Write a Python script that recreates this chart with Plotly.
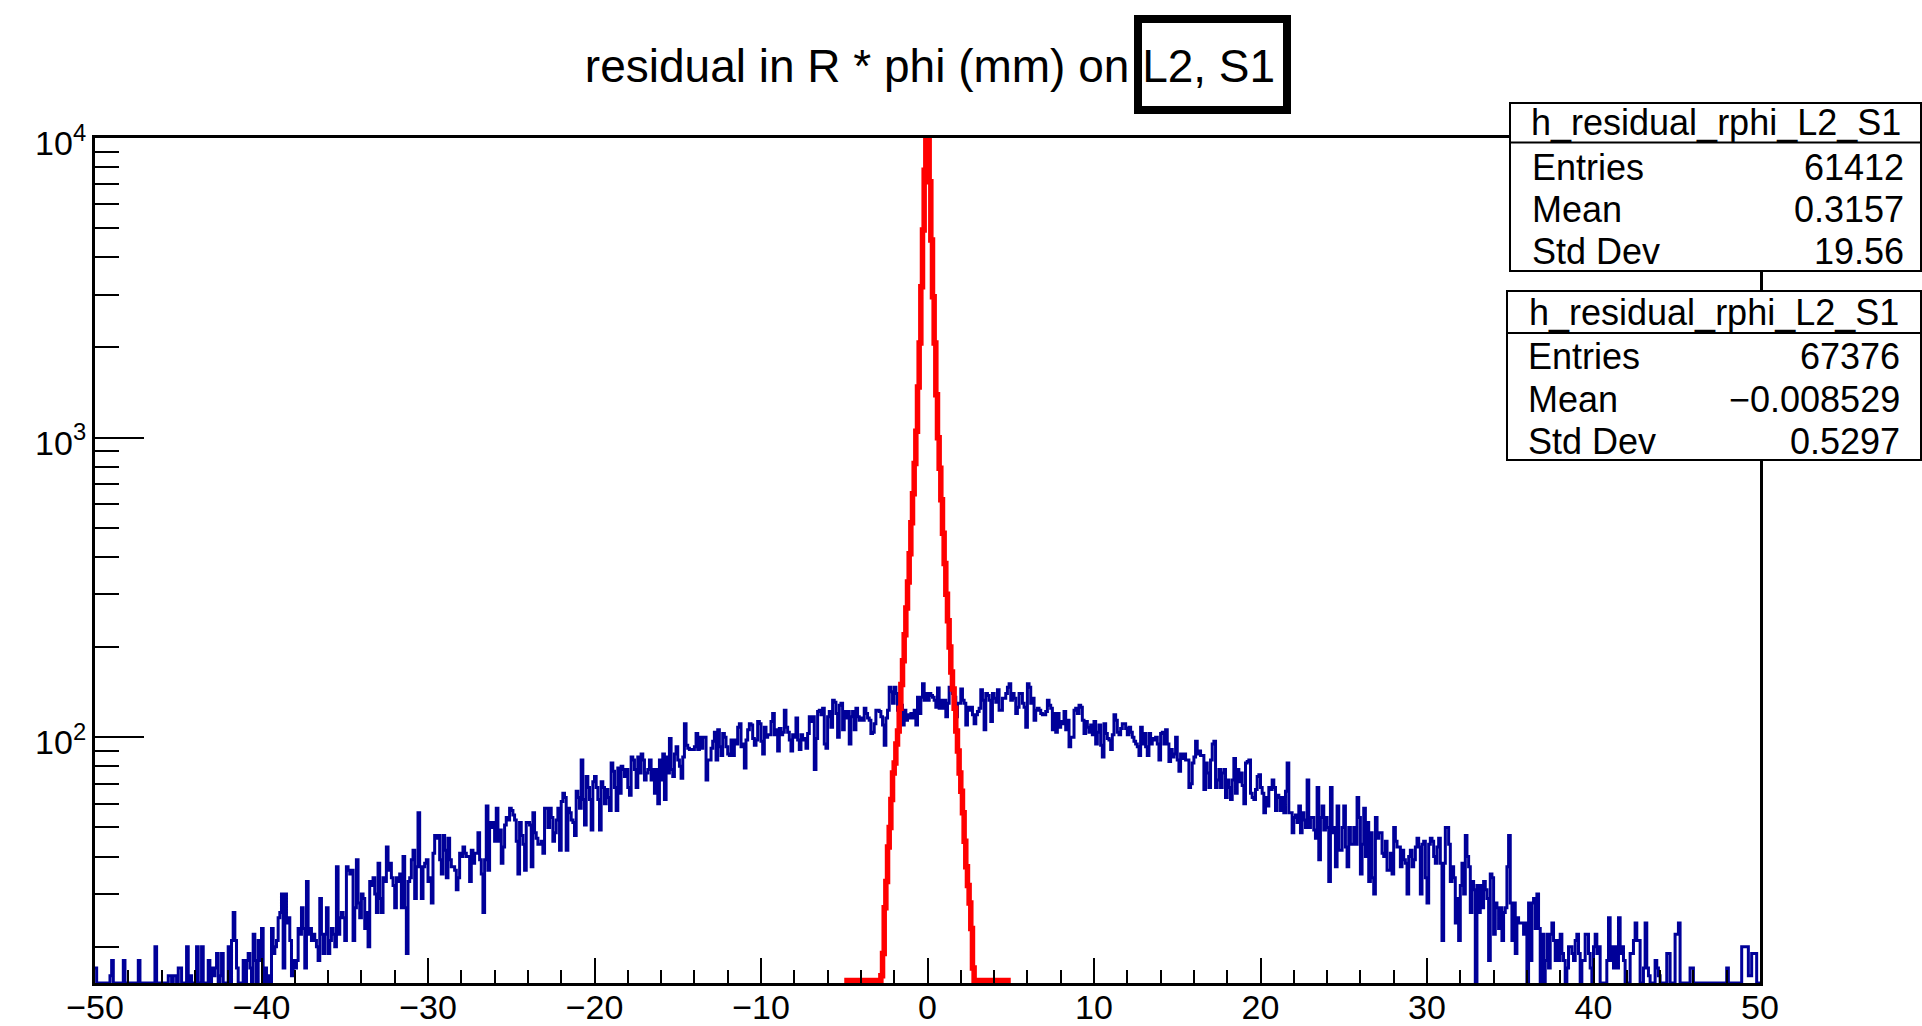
import plotly.graph_objects as go

# ---------------- data ----------------
BLUE_RANGE = (-50.0, 50.0)   # 1000 bins of 0.1
blue_a = [17,11,9,12,10,8,11,13,10,16,18,12,9,11,10,13,12,18,11,10,9,12,13,11,10,
          12,18,11,13,10,9,12,11,13,10,12,20,11,12,13,10,12,11,14,16,16,14,16,16,14,
          17,17,14,13,12,20,14,16,13,12,14,20,14,13,20,14,12,13,18,14,17,16,17,19,14,
          16,19,14,13,14,20,14,21,26,21,17,13,12,14,18,15,18,19,17,14,22,18,14,21,18,
          23,14,17,15,16,13,23,19,20,21,25,26,30,17,30,24,25,21,16,18,17,18,23,22,27,
          23,17,33,22,23,21,22,21,20,18,29,22,19,22,27,19,21,23,22,20,37,22,25,26,25,
          21,37,36,35,36,21,27,39,28,25,30,29,23,26,20,33,32,34,30,26,38,29,26,34,33,
          43,36,38,34,32,27,34,33,35,27,40,27,19,33,34,39,42,29,37,56,37,29,37,38,39,
          33,34,28,41,47,46,47,39,35,47,42,34,46,39,37,37,36,31,34,41,40,43,41,40,40,
          33,42,38,41,41,48,39,35,26,39,59,36,52,50,52,45,58,45,49,38,43,51,54,53,58]
blue_b = [57,55,53,45,35,52,47,44,36,52,52,51,37,56,48,46,44,44,45,41,58,58,50,58,54,
          45,48,53,58,42,61,65,63,42,58,56,53,52,47,66,63,58,84,62,51,74,68,62,49,71,
          74,68,62,49,71,68,60,67,63,57,82,77,68,57,79,65,80,78,74,78,68,64,86,84,78,
          68,86,76,88,84,72,76,78,84,72,78,65,78,60,84,72,88,62,86,76,99,78,74,88,93,
          84,80,73,86,111,94,92,91,91,91,93,103,91,100,92,100,100,72,84,84,92,97,104,84,106,
          93,87,103,100,93,88,87,98,87,98,95,108,111,93,95,79,98,106,111,110,99,94,98,113,111,
          97,88,108,100,102,102,113,120,102,106,90,107,102,104,123,108,104,98,90,102,100,116,98,91,102,
          98,99,92,103,117,113,117,78,99,122,123,119,125,95,92,117,122,108,133,131,120,100,128,130,106,
          122,116,122,95,117,122,106,125,117,114,116,114,125,120,116,114,103,104,111,123,123,122,117,110,94,
          116,123,147,142,130,147,140,123,125,128,110,123,114,119,116,120,116,123,110,136,120,136,151,133,140]
blue_c = [133,140,138,136,133,126,146,125,133,125,133,117,130,147,147,140,136,117,130,130,145,133,130,110,126,
          123,126,119,111,119,122,125,144,133,106,140,138,133,113,140,135,131,144,123,123,135,135,140,147,151,
          133,140,135,120,126,140,140,130,126,108,151,147,130,135,114,123,125,123,120,119,119,122,133,128,125,
          106,120,104,120,108,113,111,122,106,114,93,100,100,123,125,120,128,126,114,103,113,108,104,110,102,
          113,95,104,110,94,86,111,103,99,98,91,102,119,114,104,102,107,111,111,107,102,108,104,100,97,
          95,93,87,108,95,103,93,87,103,95,99,98,100,95,84,103,104,95,106,95,83,91,86,88,100,
          84,77,88,85,88,84,84,68,70,82,86,97,88,90,87,87,67,82,76,68,84,95,97,68,72,
          78,68,76,78,63,72,68,62,72,85,65,78,71,76,69,60,82,83,84,65,63,62,67,74,75,
          68,65,56,63,59,68,67,72,68,57,64,63,57,63,56,66,82,56,56,48,54,55,52,59,48,
          56,53,50,72,50,54,54,49,46,68,39,54,59,49,54,50,33,68,48,50,37,59,42,42,50]
blue_d = [59,43,37,50,44,44,50,44,63,54,35,44,58,40,52,33,48,34,30,54,46,48,48,41,40,
          45,36,36,41,35,50,45,43,43,37,42,39,38,30,40,42,37,39,43,46,43,30,44,45,34,
          28,44,46,45,40,38,43,46,38,21,38,50,50,44,33,37,34,24,29,21,32,38,30,47,40,
          37,26,33,31,12,32,26,32,27,33,31,29,18,35,34,22,28,27,23,27,21,26,27,37,47,
          28,21,28,19,25,24,24,24,22,24,13,28,18,28,29,23,30,23,12,22,13,18,22,17,22,
          24,21,18,21,18,22,19,18,12,17,20,20,19,18,21,22,19,11,18,18,22,22,19,17,13,
          20,22,19,20,12,11,13,10,18,25,18,20,17,20,17,25,19,20,18,12,11,13,19,19,21,
          24,21,21,12,10,17,24,17,16,12,11,13,18,17,16,12,10,11,13,19,19,12,10,13,22,
          22,24,12,11,9,12,10,13,17,17,11,10,12,9,11,13,10,12,9,11,10,12,13,9,11,
          10,12,11,9,12,17,10,11,13,9,12,10,11,13,20,20,20,20,16,16,19,19,19,11,12]

RED_RANGE = (-5.0, 5.0)      # 100 bins of 0.1
red_left_tail = [0,0,0,0,0,0,0,0,0,0,0,0,0,0,0,0,0,0,1,2,
                 4,6,16,19,27,33,43,50,62,76,82,95,105,125,150,180,220,270,330,410,
                 520,650,820,1050,1475,2070,3190,4930,7800]
red_core = [10500,10200]
red_right_tail = [7140,4570,2950,2070,1390,1000,790,620,480,380,300,245,200,165,145,125,105,90,76,66,
                  56,45,37,32,28,23,17,8,5,3,1,0,0,0,0,0,0,0,0,0,
                  0,0,0,0,0,0,0,0,0]

hist_name = "h_residual_rphi_L2_S1"
stat_labels = ["Entries", "Mean", "Std Dev"]
stats_blue = ["61412", "0.3157", "19.56"]
stats_red = ["67376", "\u22120.008529", "0.5297"]
title_main = "residual in R * phi (mm) on L2, S1"

y_major_vals = [100, 1000, 10000]
y_major_text = ["10<sup>2</sup>", "10<sup>3</sup>", "10<sup>4</sup>"]
y_minor_vals = [20, 30, 40, 50, 60, 70, 80, 90,
                200, 300, 400, 500, 600, 700, 800, 900,
                2000, 3000, 4000, 5000, 6000, 7000, 8000, 9000]

# ---------------- layout constants ----------------
W, H = 1922, 1026
ML, MR, MT, MB = 95, 162, 138, 43
YLOG_MIN, YLOG_MAX = 1.18, 4.0
FONT = "Liberation Sans, Arial, Helvetica, sans-serif"
PW = W - ML - MR
PH = H - MT - MB


def px(xp):
    return (xp - ML) / PW


def py(yp):
    return (H - MB - yp) / PH


def step(rng, counts, floor):
    lo, hi = rng
    n = len(counts)
    w = (hi - lo) / n
    xs = [lo + i * w for i in range(n + 1)]
    ys = [max(c, floor) for c in counts]
    ys.append(ys[-1])
    return xs, ys


blue_counts = blue_a + blue_b + blue_c + blue_d
red_counts = red_left_tail + red_core + red_right_tail

# empty bins sit on the frame bottom (the red one is drawn on top of the axis in ROOT)
bx, by = step(BLUE_RANGE, blue_counts, 10 ** YLOG_MIN)
rx, ry = step(RED_RANGE, red_counts, 10 ** (YLOG_MIN + 2.5 / PH * (YLOG_MAX - YLOG_MIN)))

fig = go.Figure()
fig.add_trace(go.Scatter(x=bx, y=by, mode="lines",
                         line=dict(color="#000099", width=3, shape="hv"),
                         hoverinfo="skip"))
fig.add_trace(go.Scatter(x=rx, y=ry, mode="lines",
                         line=dict(color="#ff0000", width=5.5, shape="hv"),
                         hoverinfo="skip"))

shapes = []
annotations = []

# box around "L2, S1" in the title
shapes.append(dict(type="rect", xref="paper", yref="paper",
                   x0=px(1138), x1=px(1287), y0=py(110), y1=py(19),
                   line=dict(color="black", width=8), layer="above"))


def stats_box(x0, y0, ysep, y1, header_y, row_ys, lab_x, val_x, values):
    shapes.append(dict(type="rect", xref="paper", yref="paper",
                       x0=px(x0), x1=px(1921), y0=py(y1), y1=py(y0),
                       line=dict(color="black", width=2), fillcolor="white",
                       layer="above"))
    shapes.append(dict(type="line", xref="paper", yref="paper",
                       x0=px(x0), x1=px(1921), y0=py(ysep), y1=py(ysep),
                       line=dict(color="black", width=2), layer="above"))
    annotations.append(dict(text=hist_name, xref="paper", yref="paper",
                            x=px((x0 + 1921) / 2), y=py(header_y),
                            xanchor="center", yanchor="middle", showarrow=False,
                            font=dict(size=36, color="black", family=FONT)))
    for lab, val, yy in zip(stat_labels, values, row_ys):
        annotations.append(dict(text=lab, xref="paper", yref="paper",
                                x=px(lab_x), y=py(yy), xanchor="left",
                                yanchor="middle", showarrow=False,
                                font=dict(size=36, color="black", family=FONT)))
        annotations.append(dict(text=val, xref="paper", yref="paper",
                                x=px(val_x), y=py(yy), xanchor="right",
                                yanchor="middle", showarrow=False,
                                font=dict(size=36, color="black", family=FONT)))


stats_box(1510, 103, 142.5, 271, 123, [167, 209, 251], 1530, 1906, stats_blue)
stats_box(1507, 291, 333, 460, 313, [356, 399, 441], 1526, 1902, stats_red)

fig.update_layout(
    width=W, height=H,
    margin=dict(l=ML, r=MR, t=MT, b=MB, pad=0, autoexpand=False),
    paper_bgcolor="white", plot_bgcolor="white",
    showlegend=False,
    font=dict(family=FONT, color="black"),
    title=dict(text=title_main, x=930 / W, xref="container", xanchor="center",
               y=1 - 66 / H, yref="container", yanchor="middle", automargin=False,
               font=dict(size=46, color="black", family=FONT)),
    shapes=shapes, annotations=annotations,
    xaxis=dict(range=[BLUE_RANGE[0], BLUE_RANGE[1]], showgrid=False, zeroline=False,
               automargin=False,
               showline=True, linecolor="black", linewidth=3, mirror=True,
               ticks="inside", ticklen=25, tickwidth=2, tickcolor="black",
               ticklabelstandoff=-8,
               tick0=0, dtick=10, tickfont=dict(size=34, color="black", family=FONT),
               minor=dict(ticks="inside", ticklen=13, tickwidth=2, tickcolor="black",
                          dtick=2, showgrid=False)),
    yaxis=dict(type="log", range=[YLOG_MIN, YLOG_MAX], showgrid=False, zeroline=False,
               automargin=False,
               showline=True, linecolor="black", linewidth=3, mirror=True,
               ticks="inside", ticklen=49, tickwidth=2, tickcolor="black",
               tickmode="array", tickvals=y_major_vals, ticktext=y_major_text,
               ticklabelstandoff=-1, ticklabelshift=5,
               tickfont=dict(size=34, color="black", family=FONT),
               minor=dict(ticks="inside", ticklen=24, tickwidth=2, tickcolor="black",
                          tickmode="array", tickvals=y_minor_vals, showgrid=False)),
)

fig.write_html("out.html")
